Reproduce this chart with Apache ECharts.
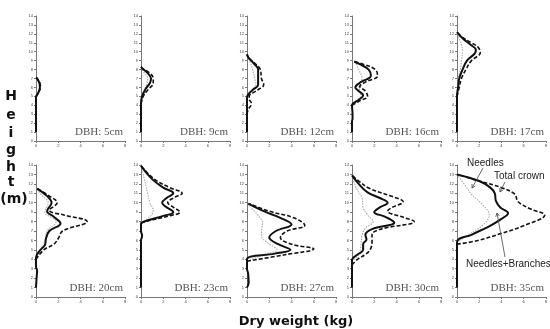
<!DOCTYPE html>
<html>
<head>
<meta charset="utf-8">
<script src="https://cdn.jsdelivr.net/npm/echarts@6/dist/echarts.min.js"></script>
<style>
  html, body { margin: 0; padding: 0; background: #fff; }
  #main { width: 550px; height: 329px; }
</style>
</head>
<body>
<div id="main"></div>
<script>
// panel titles (tree diameter)
var dbhLabels = ['DBH: 5cm', 'DBH: 9cm', 'DBH: 12cm', 'DBH: 16cm', 'DBH: 17cm',
  'DBH: 20cm', 'DBH: 23cm', 'DBH: 27cm', 'DBH: 30cm', 'DBH: 35cm'];

// axis ticks
var heightTicks = [0, 14, 1];   // min, max, step
var weightTicks = [0, 8, 2];

// profiles: [dry weight (kg), height (m)]
var needles = [
  [[0,5.0],[0.15,5.4],[0.3,5.9],[0.3,6.4],[0.15,6.8],[0,7.1]],
  [[0,4.8],[0.2,5.5],[0.5,6.3],[0.6,7.0],[0.3,7.6],[0.05,8.2]],
  [[0,5.0],[0.3,5.6],[0.8,6.3],[0.7,7.0],[0.5,8.0],[0.3,8.8],[0.05,9.5]],
  [[0,4.0],[0.5,4.6],[0.8,5.1],[0.7,5.7],[0.6,6.2],[0.9,7.0],[0.6,8.0],[0.3,8.9]],
  [[0,5.0],[0.1,7.0],[0.3,8.0],[0.4,9.0],[0.5,10.0],[0.4,10.8],[0.2,11.5],[0,12.2]],
  [[0,4.2],[0.4,5.0],[0.8,6.0],[1.0,7.0],[1.8,8.0],[0.8,9.0],[1.1,10.0],[0.5,10.8],[0.1,11.4]],
  [[0,8.0],[0.5,8.2],[1.1,9.2],[0.8,10.0],[0.6,11.0],[0.4,12.0],[0.1,13.5]],
  [[0,3.8],[1.5,4.5],[2.7,5.0],[1.8,5.8],[1.3,6.5],[1.3,7.0],[1.4,7.8],[0.9,8.8],[0.3,9.5]],
  [[0,3.8],[0.6,4.5],[0.8,5.5],[0.9,6.5],[1.2,7.3],[1.9,8.0],[1.4,8.7],[1.0,9.5],[0.9,10.5],[0.4,11.5],[0.1,12.5]],
  [[0,5.8],[1.0,6.6],[2.3,7.6],[2.9,8.7],[2.3,9.8],[1.3,10.9],[0.7,11.9],[0,13.0]]
];
var needlesBranches = [
  [[0,1],[0,4.9],[0.2,5.4],[0.35,6.0],[0.3,6.5],[0.1,7.0],[0,7.1]],
  [[0,1],[0,4.2],[0.1,5.0],[0.4,5.8],[0.8,6.5],[0.9,7.0],[0.6,7.6],[0.15,8.1],[0,8.3]],
  [[0,1],[0,4.8],[0.1,5.2],[0.5,5.7],[1.0,6.3],[1.0,7.0],[1.0,8.0],[0.6,8.7],[0.15,9.3],[0,9.7]],
  [[0,1],[0,2.2],[0.05,2.5],[0.05,3.0],[0,4.0],[0.6,4.6],[1.0,5.1],[0.6,5.6],[0.3,6.0],[0.8,6.6],[1.7,7.3],[1.5,8.0],[0.7,8.6],[0.2,8.9]],
  [[0,1],[0,5.0],[0.1,6.0],[0.2,7.0],[0.5,8.0],[0.9,9.0],[1.6,9.8],[1.7,10.2],[1.2,10.8],[0.5,11.5],[0,12.2]],
  [[0,1],[0.05,2],[0.1,2.8],[0,3.2],[0,4.2],[0.4,5.0],[0.8,5.5],[0.9,6.2],[1.2,7.0],[2.2,7.8],[1.6,8.5],[1.0,9.1],[1.4,10.0],[1.0,10.7],[0.1,11.5]],
  [[0,1],[0,6.0],[0.1,6.5],[0,7.0],[0,7.8],[0.3,8.0],[2.0,8.6],[2.9,9.0],[2.2,9.6],[1.9,10.0],[2.3,10.5],[2.9,11.0],[2.0,11.6],[1.0,12.5],[0,13.9]],
  [[0,1],[0.15,1.5],[0.1,2.5],[0,3.0],[0,4.0],[2.5,4.6],[3.9,5.0],[2.8,5.6],[2.0,6.3],[2.6,7.0],[4.0,7.7],[3.0,8.4],[1.5,9.1],[0.1,9.9]],
  [[0,1],[0,3.9],[0.5,4.5],[1.0,5.0],[1.0,5.6],[1.3,6.1],[1.2,6.6],[1.8,7.2],[3.8,7.9],[3.0,8.5],[2.0,9.0],[2.5,9.5],[3.2,10.0],[2.5,10.5],[1.4,11.1],[0.6,12.0],[0,12.9]],
  [[0,1],[0,5.8],[1.3,6.6],[2.9,7.5],[3.9,8.2],[4.6,8.9],[3.9,9.5],[3.5,10.2],[3.4,11.0],[3.0,11.6],[2.0,12.3],[0,13.0]]
];
var totalCrown = [
  [[0,4.9],[0.2,5.4],[0.4,6.0],[0.35,6.5],[0.1,7.0],[0,7.1]],
  [[0,4.2],[0.2,5.0],[0.6,5.7],[1.1,6.5],[1.1,7.0],[0.7,7.7],[0.15,8.1],[0,8.3]],
  [[0,3.0],[0.1,3.5],[0.4,4.2],[0.2,4.7],[0.2,5.0],[0.8,5.6],[1.5,6.3],[1.3,7.0],[1.2,8.0],[0.7,8.7],[0.15,9.3],[0,9.7]],
  [[0,4.0],[0.7,4.5],[1.4,5.0],[1.2,5.6],[0.7,6.1],[1.2,6.6],[2.3,7.3],[2.1,8.0],[1.0,8.6],[0.2,8.9]],
  [[0,5.0],[0.2,6.0],[0.4,7.0],[0.8,8.0],[1.3,9.0],[2.1,9.9],[1.9,10.5],[1.3,11.0],[0.5,11.6],[0,12.2]],
  [[0,4.0],[0.7,5.0],[1.6,5.6],[2.0,6.2],[2.4,7.0],[4.6,8.0],[2.5,8.7],[1.2,9.2],[1.9,10.0],[1.2,10.7],[0.1,11.5]],
  [[0,7.8],[0.4,8.0],[2.5,8.6],[3.5,9.0],[2.8,9.6],[2.4,10.0],[2.9,10.5],[3.7,11.0],[2.6,11.6],[1.2,12.5],[0,13.9]],
  [[0,3.8],[3.5,4.5],[6.0,5.1],[4.0,5.6],[3.0,6.3],[3.6,7.0],[5.2,7.6],[4.2,8.4],[2.0,9.1],[0.2,9.9]],
  [[0,3.4],[0.5,4.0],[1.3,4.6],[1.7,5.2],[1.8,6.0],[1.8,6.6],[2.6,7.2],[5.6,8.0],[4.5,8.5],[3.2,9.1],[3.6,9.5],[4.6,10.1],[3.5,10.7],[1.6,11.5],[0.6,12.3],[0,12.9]],
  [[0,5.6],[1.9,6.0],[4.0,6.75],[6.1,7.6],[7.9,8.7],[6.7,9.3],[5.5,10.1],[5.2,10.9],[4.0,11.6],[2.0,12.3],[0,13.0]]
];

var chart = echarts.init(document.getElementById('main'), null, { renderer: 'canvas' });

// panel layout
var colLeft = [36, 141, 247, 352, 457];
var rowTop = [16, 165];
var rowHeight = [125, 132];
var panelWidth = 89;

var grids = [], xAxes = [], yAxes = [], series = [], graphics = [];

for (var i = 0; i < dbhLabels.length; i++) {
  var c = i % 5, r = Math.floor(i / 5);
  grids.push({ left: colLeft[c], top: rowTop[r], width: panelWidth, height: rowHeight[r] });
  xAxes.push({
    type: 'value', gridIndex: i, min: weightTicks[0], max: weightTicks[1], interval: weightTicks[2],
    splitLine: { show: false },
    axisLine: { lineStyle: { color: '#777', width: 1 } },
    axisTick: { length: 2, lineStyle: { color: '#777' } },
    axisLabel: { fontSize: 4, color: '#444', margin: 3 }
  });
  yAxes.push({
    type: 'value', gridIndex: i, min: heightTicks[0], max: heightTicks[1], interval: heightTicks[2],
    splitLine: { show: false },
    axisLine: { show: true, lineStyle: { color: '#777', width: 1 } },
    axisTick: { show: true, length: 2, lineStyle: { color: '#777' } },
    axisLabel: { fontSize: 4, color: '#444', margin: 3 }
  });

  series.push({
    name: 'Needles', type: 'line', xAxisIndex: i, yAxisIndex: i, data: needles[i],
    smooth: 0.4, showSymbol: false, z: 2,
    lineStyle: { color: '#aaa', width: 1.1, type: [1.5, 1.2] }
  });
  series.push({
    name: 'Needles+Branches', type: 'line', xAxisIndex: i, yAxisIndex: i, data: needlesBranches[i],
    smooth: 0.4, showSymbol: false, z: 3,
    lineStyle: { color: '#111', width: 2 }
  });
  series.push({
    name: 'Total crown', type: 'line', xAxisIndex: i, yAxisIndex: i, data: totalCrown[i],
    smooth: 0.4, showSymbol: false, z: 3,
    lineStyle: { color: '#111', width: 1.6, type: [4, 2] }
  });

  graphics.push({
    type: 'text', z: 10,
    style: {
      text: dbhLabels[i], x: colLeft[c] + panelWidth - 2, y: rowTop[r] + rowHeight[r] - 9,
      align: 'right', verticalAlign: 'middle',
      fontSize: 11, fontFamily: '"Liberation Serif", serif', fill: '#555'
    }
  });
}

// vertical y title, one letter per line
var yTitle = ['H', 'e', 'i', 'g', 'h', 't', '(m)'];
var yTitlePos = [96, 115, 133, 150, 167, 182, 199];
yTitle.forEach(function (ch, k) {
  graphics.push({
    type: 'text',
    style: {
      text: ch, x: k === 6 ? 14 : 11, y: yTitlePos[k], align: 'center', verticalAlign: 'middle',
      fontSize: 14, fontWeight: 'bold', fontFamily: '"DejaVu Sans", sans-serif', fill: '#111'
    }
  });
});

graphics.push({
  type: 'text',
  style: {
    text: 'Dry weight (kg)', x: 296, y: 322, align: 'center', verticalAlign: 'middle',
    fontSize: 13, fontWeight: 'bold', fontFamily: '"DejaVu Sans", sans-serif', fill: '#111'
  }
});

// legend annotations on the last panel
function note(text, x, y) {
  return {
    type: 'text', z: 10,
    style: {
      text: text, x: x, y: y, align: 'left', verticalAlign: 'middle',
      fontSize: 10, fontFamily: '"Liberation Sans", Arial, sans-serif', fill: '#222'
    }
  };
}
function arrow(x1, y1, x2, y2) {
  var a = Math.atan2(y2 - y1, x2 - x1), h = 4;
  return [
    { type: 'line', z: 10, shape: { x1: x1, y1: y1, x2: x2, y2: y2 }, style: { stroke: '#444', lineWidth: 0.8 } },
    { type: 'polyline', z: 10,
      shape: { points: [
        [x2 - h * Math.cos(a - 0.5), y2 - h * Math.sin(a - 0.5)], [x2, y2],
        [x2 - h * Math.cos(a + 0.5), y2 - h * Math.sin(a + 0.5)]] },
      style: { stroke: '#444', lineWidth: 0.8, fill: null } }
  ];
}
graphics.push(note('Needles', 467, 163));
graphics.push(note('Total crown', 494, 176));
graphics.push(note('Needles+Branches', 466, 264));
graphics = graphics.concat(arrow(483, 168, 472, 188));
graphics = graphics.concat(arrow(505, 182, 500, 192));
graphics = graphics.concat(arrow(505, 257, 497, 213));

chart.setOption({
  animation: false,
  backgroundColor: '#fff',
  grid: grids,
  xAxis: xAxes,
  yAxis: yAxes,
  series: series,
  graphic: graphics
});
</script>
</body>
</html>
